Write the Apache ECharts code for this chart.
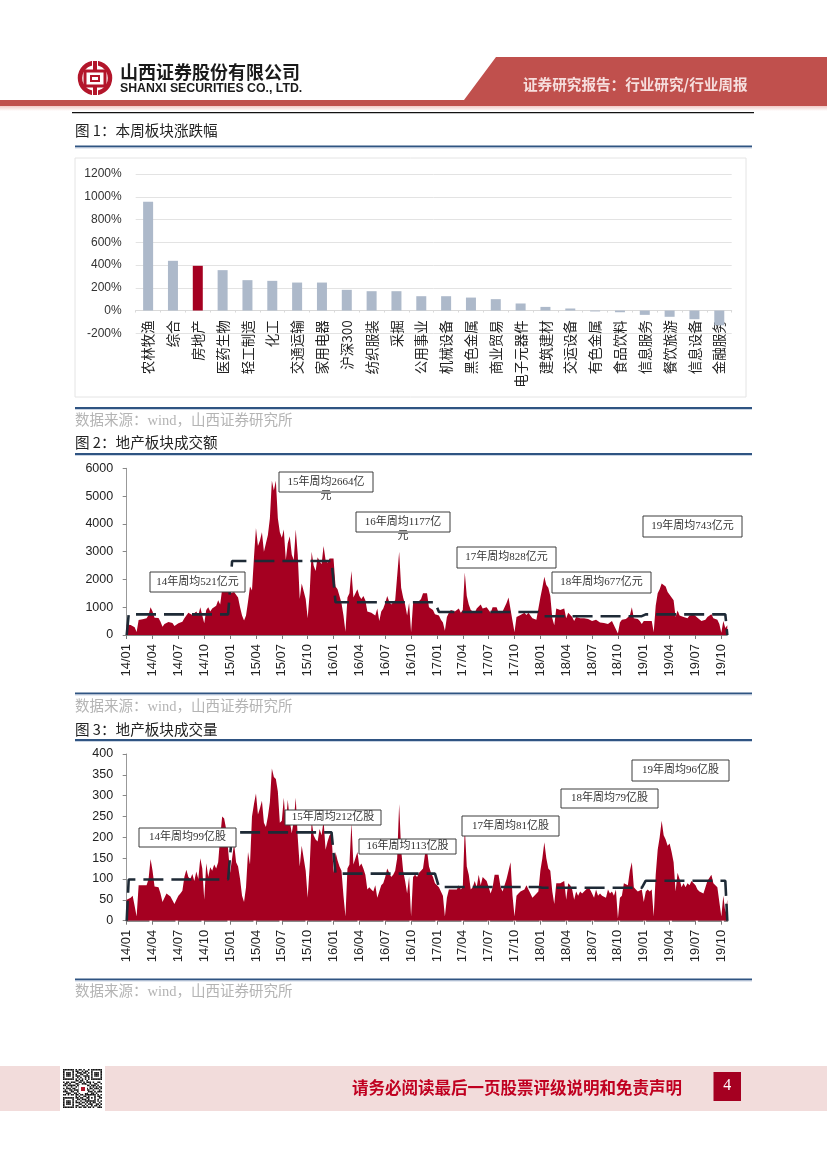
<!DOCTYPE html>
<html><head><meta charset="utf-8">
<style>html,body{margin:0;padding:0;background:#fff}#c{width:827px;height:1169px}</style>
<script src="https://cdn.jsdelivr.net/npm/echarts@6/dist/echarts.min.js"></script>
</head><body><div id="c"></div>
<script>
// ---------- chart 1 ----------
const sectors = ['农林牧渔','综合','房地产','医药生物','轻工制造','化工','交通运输','家用电器','沪深300','纺织服装','采掘','公用事业','机械设备','黑色金属','商业贸易','电子元器件','建筑建材','交运设备','有色金属','食品饮料','信息服务','餐饮旅游','信息设备','金融服务'];
const sectorChange = [956,437,393,355,267,261,246,246,182,170,170,126,126,114,100,62,32,18,-8,-15,-38,-55,-76,-130];
const highlightSector = '房地产';
// ---------- charts 2, 3: weekly, 13 weeks per tick ----------
const quarterLabels = ['14/01','14/04','14/07','14/10','15/01','15/04','15/07','15/10','16/01','16/04','16/07','16/10','17/01','17/04','17/07','17/10','18/01','18/04','18/07','18/10','19/01','19/04','19/07','19/10'];
const amount = [
 380,340,360,430,280,110,540,590,570,560,600,720,1000,
 850,620,600,610,480,300,400,450,470,440,430,320,390,
 420,430,480,600,700,800,750,720,770,850,700,1000,950,
 420,900,1000,850,950,1000,1050,1250,1100,1650,1800,1900,1800,
 1500,1450,1550,1500,1350,1000,700,520,700,1200,1750,1600,2800,
 3850,3200,3400,3700,3000,3050,3600,4200,5550,5200,5550,4200,3700,
 3500,3800,2700,3300,3550,2900,2700,3800,2900,1300,1850,1800,1300,
 600,1500,3000,2500,2300,2800,2650,2550,3200,2700,2600,2750,2800,
 2750,1750,1650,1400,1150,700,120,1350,1500,2300,1350,1350,1650,
 1400,1300,1400,1250,850,880,800,750,700,950,500,850,950,
 1150,1400,1200,1100,1150,1250,1200,3000,1700,1350,1100,700,1150,
 100,1150,1200,1150,1200,1300,1500,1450,1500,1000,950,900,750,
 700,700,550,450,150,650,800,900,850,850,900,950,800,
 900,2250,1400,1100,900,950,800,950,1000,1100,950,1000,1000,
 900,800,1000,1050,1000,800,800,850,1000,1150,1350,1400,500,
 100,650,700,720,700,800,720,800,700,600,550,550,600,
 1350,1700,2100,1800,1700,1400,600,350,950,950,900,900,950,
 600,800,750,650,500,650,600,600,600,600,580,580,600,
 500,450,550,500,450,430,430,420,400,350,500,350,400,
 50,450,550,550,580,600,700,1000,600,600,580,500,400,
 500,450,500,500,500,100,1050,1500,1650,1850,1800,1750,1550,
 1600,1350,1250,650,880,700,650,650,700,600,700,700,750,
 700,620,600,500,450,550,650,600,750,600,600,550,400,
 80,500,250,350];
const volume = [
 50,50,55,60,35,10,85,88,85,85,85,100,148,
 120,82,82,80,65,45,55,65,62,58,55,40,50,
 60,65,72,105,122,105,100,112,95,118,100,150,125,
 50,138,105,128,120,135,125,140,200,250,245,220,170,
 115,150,185,140,130,100,60,45,80,165,135,250,280,
 305,255,270,288,235,225,250,285,365,345,340,310,235,
 240,295,230,290,240,210,240,295,200,130,180,180,120,
 55,130,240,205,195,190,220,205,240,170,190,205,210,
 115,165,145,130,120,60,10,125,135,235,135,135,165,
 130,137,125,110,75,80,75,70,85,55,70,85,90,
 105,125,115,105,110,120,150,280,170,120,95,65,105,
 10,105,110,105,115,120,125,160,170,130,115,105,90,
 85,80,70,60,10,55,75,78,75,72,75,85,75,
 80,225,130,110,75,80,95,80,110,85,105,100,95,
 80,65,80,110,110,110,80,70,85,100,120,140,60,
 10,60,65,70,70,75,85,75,65,55,60,60,70,
 120,150,188,150,125,120,70,40,90,92,90,92,95,
 50,90,85,75,50,70,60,70,65,70,75,80,75,
 65,55,75,60,65,60,60,55,75,65,70,60,75,
 5,55,60,90,90,85,120,140,80,75,70,70,75,
 45,70,75,70,75,10,110,170,200,240,205,195,180,
 185,165,140,70,115,100,80,90,80,90,85,95,95,
 85,75,70,70,65,80,95,95,110,90,85,80,45,
 10,60,20,50];
// level of the dashed line in each calendar year
const amountYearLevels = [742,2664,1177,828,677,743];
const volumeYearLevels = [99,212,113,81,79,96];

const weekCategories = amount.map((_, i) => i % 13 === 0 ? quarterLabels[i / 13] : '');
function yearSteps(levels){
  return amount.map((_, i) => (i === 0 || i === amount.length - 1) ? 0 : levels[Math.floor((i - 1) / 52)]);
}

const INK = '#222', CRIMSON = '#a50021', RULE = '#2f5482';
const CJK = '"Noto Sans CJK SC","Noto Sans",sans-serif';
const SERIF = '"Liberation Serif","Noto Sans CJK SC",serif';
const g = [];
const Z = 50;
function rect(x, y, w, h, fill, extra){ g.push(Object.assign({type:'rect',z:Z,silent:true,shape:{x,y,width:w,height:h},style:{fill}},extra||{})); }
function txt(text, x, y, size, fill, o){ o=o||{}; g.push({type:'text',z:o.z||Z+1,silent:true,style:{text,x,y,fontSize:size,fontFamily:o.font||CJK,fontWeight:o.weight||'normal',fill,align:o.align||'left',verticalAlign:'middle'}}); }
function note(x1, y1, x2, y2, text, wrap){
  rect(x1, y1, x2-x1, y2-y1, '#fff', {style:{fill:'#fff',stroke:'#3c3c3c',lineWidth:1}});
  txt(text, (x1+x2)/2, (y1+y2)/2, 11, '#333', {font:SERIF, align:'center'});
  if(wrap) txt(wrap, (x1+x2)/2, y2+4, 11, '#333', {font:SERIF, align:'center'});
}
function rule(y){ rect(75, y-1, 677, 2, RULE); rect(75, y+1, 677, 1, '#c9d4e3'); }

// header
g.push({type:'polygon',z:Z,silent:true,shape:{points:[[496,57],[827,57],[827,106],[0,106],[0,100],[464,100]]},style:{fill:'#c0504d'}});
rect(0,106,827,5,null,{style:{fill:{type:'linear',x:0,y:0,x2:0,y2:1,colorStops:[{offset:0,color:'#f2c9c7'},{offset:1,color:'#ffffff'}]}}});
// logo
g.push({type:'circle',z:Z,silent:true,shape:{cx:95,cy:78,r:15},style:{fill:'none',stroke:'#b3162b',lineWidth:4.5}});
rect(92,60,6,36,'#fff');
rect(93,61,4,12,'#b3162b'); rect(93,84,4,11,'#b3162b');
rect(85,71,20,15,'#fff',{style:{fill:'#fff',stroke:'#b3162b',lineWidth:3}});
rect(91,76,8,5,'#fff',{style:{fill:'#fff',stroke:'#b3162b',lineWidth:2}});
txt('山西证券股份有限公司',120,72.5,18,'#1a1a1a',{weight:'bold'});
txt('SHANXI SECURITIES CO., LTD.',120,88.5,12.3,'#1a1a1a',{weight:'bold',font:'"Liberation Sans",sans-serif'});
txt('证券研究报告：行业研究/行业周报',523,84,14.6,'#f6dedd',{weight:'bold'});
rect(72,112,682,1.2,'#111');

// section furniture
txt('图 1：本周板块涨跌幅',75,130,14.6,INK);
rule(146.5);
rect(75,158,671,239,'none',{style:{fill:'none',stroke:'#e4e4e4',lineWidth:1}});
rule(408);
txt('数据来源：wind，山西证券研究所',75,421,14.5,'#b4b4b4',{font:SERIF});
txt('图 2：地产板块成交额',75,442,14.6,INK);
rule(454);
rule(693.5);
txt('数据来源：wind，山西证券研究所',75,707,14.5,'#b4b4b4',{font:SERIF});
txt('图 3：地产板块成交量',75,729,14.6,INK);
rule(740);
rule(979.5);
txt('数据来源：wind，山西证券研究所',75,992,14.5,'#b4b4b4',{font:SERIF});

// annotations, chart 2
note(150,572,245,592,'14年周均521亿元');
note(279,472,373,492,'15年周均2664亿','元');
note(356,512,450,532,'16年周均1177亿','元');
note(457,547,556,568,'17年周均828亿元');
note(552,572,651,593,'18年周均677亿元');
note(643,516,742,537,'19年周均743亿元');
// annotations, chart 3
note(139,828,236,847,'14年周均99亿股');
note(285,810,381,825,'15年周均212亿股');
note(359,839,456,854,'16年周均113亿股');
note(462,816,559,836,'17年周均81亿股');
note(561,789,658,808,'18年周均79亿股');
note(632,760,729,781,'19年周均96亿股');

// footer
rect(0,1066,827,45,'#f2dcdb');
rect(60,1066,45,45,'#fff');
const qrRows = [
'1111111010110100101111111','1000001011001011001000001','1011101001110110101011101','1011101010011001001011101','1011101011100111101011101','1000001001010010101000001','1111111010101010101111111','0000000011011001000000000',
'1011011100110101110100110','0110100011001110010011001','1101111101100011101110100','0010010010111010010101011','1011101100110001011011101','0100110111001101100100010','1110011001011110111010111','0011100110100011001101000','1101011011011011111110101',
'0000000010100110100010110','1111111011011001101010011','1000001001101110100010100','1011101010010011111110101','1011101011101101010110010','1011101000110010111001101','1000001011001101001011010','1111111010110110110100111'];
qrRows.forEach((row, r) => { [...row].forEach((b, c) => { if(b === '1') rect(63+c*1.56, 1069+r*1.56, 1.56, 1.56, '#111'); }); });
rect(79,1085,8,8,'#fff');
rect(81,1087,4,4,'#b3162b');
txt('请务必阅读最后一页股票评级说明和免责声明',352,1087.5,16.5,'#c00020',{weight:'bold'});
rect(713.5,1072,27.5,29,CRIMSON);
txt('4',727.3,1086,16,'#fff',{font:SERIF,align:'center'});

const numFont = '"Liberation Sans",sans-serif';
function dateX(gridIndex, axisLineStyle){
  return {gridIndex, type:'category', data:weekCategories, boundaryGap:false,
    axisLine:{show:true,onZero:false,lineStyle:axisLineStyle},
    axisTick:{show:true,interval:12,length:4,lineStyle:{color:'#777'}},
    axisLabel:{interval:12,rotate:90,margin:9,fontSize:13,fontFamily:numFont,color:INK},
    splitLine:{show:false}};
}
function valY(gridIndex, max, interval){
  return {gridIndex, type:'value', min:0, max, interval,
    axisLine:{show:true,lineStyle:{color:'#999'}},
    axisTick:{show:true,length:4,lineStyle:{color:'#888'}},
    axisLabel:{margin:13.5,fontSize:12.5,fontFamily:numFont,color:INK,formatter:v=>String(v)},
    splitLine:{show:false}};
}
function area(i, data){ return {type:'line',xAxisIndex:i,yAxisIndex:i,data,showSymbol:false,symbol:'none',z:2,lineStyle:{width:0},areaStyle:{color:CRIMSON,opacity:1},itemStyle:{color:CRIMSON},silent:true,animation:false}; }
function dash(i, data){ return {type:'line',xAxisIndex:i,yAxisIndex:i,data,showSymbol:false,symbol:'none',z:3,lineStyle:{width:2.6,color:'#1e2a36',type:[20,8]},silent:true,animation:false}; }

const chart = echarts.init(document.getElementById('c'), null, {renderer:'canvas',width:827,height:1169});
chart.setOption({
  animation:false,
  backgroundColor:'#fff',
  grid:[
    {left:135.7,top:174,width:596,height:159.3,containLabel:false},
    {left:126.7,top:468.3,width:600.6,height:166.7},
    {left:126.7,top:754,width:600.6,height:166.7}
  ],
  xAxis:[
    {gridIndex:0,type:'category',data:sectors,
      axisLine:{show:true,onZero:true,lineStyle:{color:'#d9d9d9'}},
      axisTick:{show:true,length:2,lineStyle:{color:'#d9d9d9'}},
      axisLabel:{interval:0,rotate:90,margin:-13,fontSize:13.5,fontFamily:CJK,color:INK}},
    dateX(1,{color:'#888'}),
    dateX(2,{color:'#8a8a8a',width:2,type:[22,4]})
  ],
  yAxis:[
    {gridIndex:0,type:'value',min:-200,max:1200,interval:200,
      axisLine:{show:false},axisTick:{show:false},
      axisLabel:{formatter:v=>v+'%',margin:14,fontSize:12,fontFamily:numFont,color:'#333'},
      splitLine:{lineStyle:{color:'#e3e3e3'}}},
    valY(1,6000,1000),
    valY(2,400,50)
  ],
  series:[
    {type:'bar',xAxisIndex:0,yAxisIndex:0,barWidth:10,silent:true,
      data:sectors.map((s,i)=>({value:sectorChange[i],itemStyle:{color:s===highlightSector?CRIMSON:'#adb9ca'}}))},
    area(1,amount), dash(1,yearSteps(amountYearLevels)),
    area(2,volume), dash(2,yearSteps(volumeYearLevels))
  ],
  graphic:{elements:g}
});
</script></body></html>
